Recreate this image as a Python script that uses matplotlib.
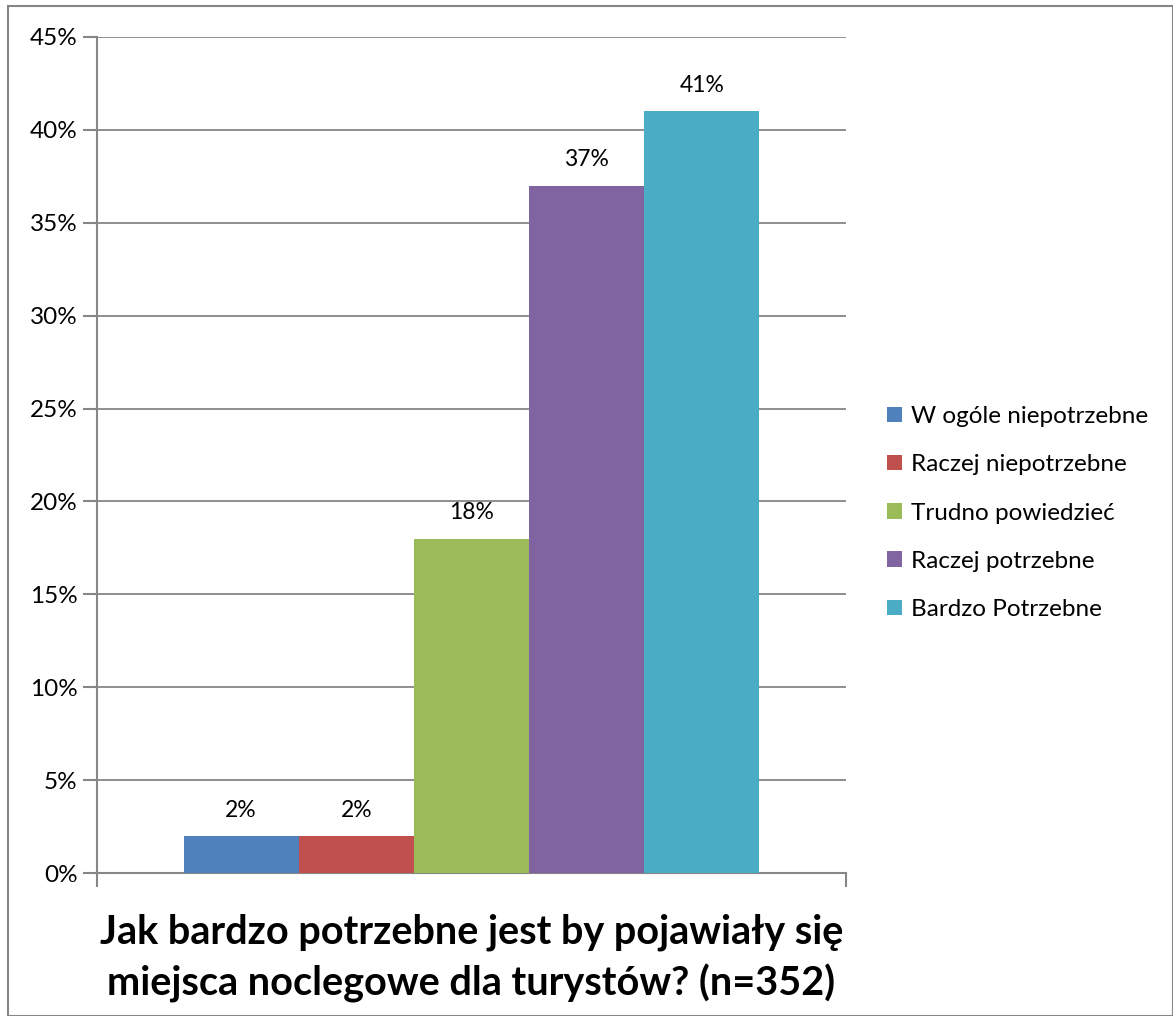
import matplotlib.pyplot as plt
import matplotlib.patches as mpatches
from matplotlib.ticker import PercentFormatter

# data
categories = ['W ogóle niepotrzebne', 'Raczej niepotrzebne', 'Trudno powiedzieć',
              'Raczej potrzebne', 'Bardzo Potrzebne']
values = [2, 2, 18, 37, 41]
colors = ['#4F81BD', '#C0504D', '#9BBB59', '#8064A2', '#4BACC6']
title = 'Jak bardzo potrzebne jest by pojawiały się\nmiejsca noclegowe dla turystów? (n=352)'

plt.rcParams['font.family'] = ['Lato', 'DejaVu Sans']

fig = plt.figure(figsize=(11.73, 10.16), dpi=100)
W, H = 1173, 1016
ax = fig.add_axes([97 / W, (H - 873) / H, (846 - 97) / W, (873 - 37) / H])

# outer chart border
fig.patches.append(mpatches.Rectangle((8 / W, 0), 1 - 8 / W - 0.5 / W, 1 - 6 / H,
                                      transform=fig.transFigure, fill=False,
                                      edgecolor='#868686', linewidth=1.5))

bw = 0.1538
for i, (cat, v, c) in enumerate(zip(categories, values, colors)):
    x = (i - 2) * bw
    ax.bar(x, v, width=bw, color=c, label=cat, zorder=3)
    ax.annotate(f'{v}%', (x, v), xytext=(0, 11), textcoords='offset points',
                ha='center', va='bottom', fontsize=16.5)

ax.set_xlim(-0.5, 0.5)
ax.set_ylim(0, 45)
ax.set_yticks(range(0, 50, 5))
ax.yaxis.set_major_formatter(PercentFormatter(decimals=0))
ax.set_xticks([-0.5, 0.5])
ax.set_xticklabels([])
ax.tick_params(axis='x', length=10, width=1.5, color='#868686', direction='out')
ax.tick_params(axis='y', length=10, width=1.5, color='#868686', direction='out',
               labelsize=17.5, pad=4)
ax.grid(axis='y', color='#868686', linewidth=1.3, zorder=0)
for s in ['top', 'right']:
    ax.spines[s].set_visible(False)
for s in ['left', 'bottom']:
    ax.spines[s].set_color('#868686')
    ax.spines[s].set_linewidth(1.5)

ax.set_xlabel(title, fontsize=28.5, fontweight='bold', labelpad=16, linespacing=1.4)

ax.legend(loc='center left', bbox_to_anchor=(887 / W, (H - 513) / H),
          bbox_transform=fig.transFigure, frameon=False, fontsize=17.5,
          handlelength=0.6, handleheight=0.6, handletextpad=0.4, labelspacing=1.12,
          borderpad=0, borderaxespad=0)

fig.savefig('out.png', dpi=100)
